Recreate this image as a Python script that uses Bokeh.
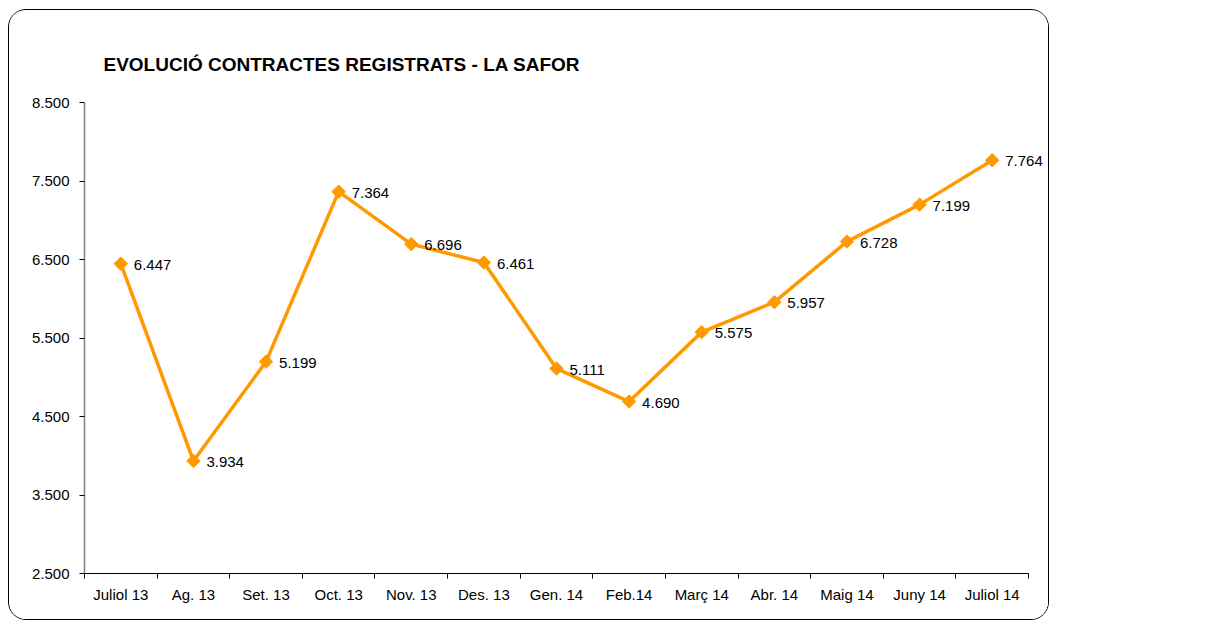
from bokeh.plotting import figure
from bokeh.models import Range1d, FixedTicker, ColumnDataSource, Label
from bokeh.embed import file_html
from bokeh.resources import INLINE

categories = ["Juliol 13", "Ag. 13", "Set. 13", "Oct. 13", "Nov. 13", "Des. 13", "Gen. 14",
              "Feb.14", "Març 14", "Abr. 14", "Maig 14", "Juny 14", "Juliol 14"]
contracts = [6447, 3934, 5199, 7364, 6696, 6461, 5111, 4690, 5575, 5957, 6728, 7199, 7764]
y_ticks = [2500, 3500, 4500, 5500, 6500, 7500, 8500]
y_tick_labels = ["2.500", "3.500", "4.500", "5.500", "6.500", "7.500", "8.500"]


def fmt(v):
    return f"{v:,}".replace(",", ".")


n = len(categories)
xs = [i + 0.5 for i in range(n)]
src = ColumnDataSource(dict(x=xs, y=contracts))

FONT = "Liberation Sans"
ORANGE = "#FF9900"

W, H = 1041, 611
BL, BR = 75, 4
axis_w = W - BL - 22          # width of the drawn category axis
frame_w = W - BL - BR         # frame extends further right so labels are not clipped
x_end = n * frame_w / axis_w

p = figure(width=W, height=H, output_backend="svg", toolbar_location=None,
           x_range=Range1d(0, x_end), y_range=Range1d(2500, 8500),
           min_border_left=BL, min_border_right=BR, min_border_top=92, min_border_bottom=48,
           background_fill_color="white", border_fill_color="white")
p.outline_line_color = None
p.grid.visible = False
p.styles = {"border": "1.5px solid black", "border-radius": "18px",
            "margin-top": "9px", "margin-left": "8px", "overflow": "hidden"}

p.title.text = "EVOLUCIÓ CONTRACTES REGISTRATS - LA SAFOR"
p.title.text_font = FONT
p.title.text_font_style = "bold"
p.title.text_font_size = "19px"
p.title.align = "left"
p.title.offset = 19
p.title.standoff = 55
p.title.text_color = "black"

# x axis
xa = p.xaxis[0]
xa.bounds = (0, n)
xa.ticker = FixedTicker(ticks=xs, minor_ticks=list(range(n + 1)))
xa.major_label_overrides = {x: c for x, c in zip(xs, categories)}
xa.major_tick_line_color = None
xa.minor_tick_line_color = "black"
xa.minor_tick_out = 5
xa.minor_tick_in = 0
xa.axis_line_color = "black"
xa.axis_line_width = 1.2
xa.major_label_text_font = FONT
xa.major_label_text_font_size = "15px"
xa.major_label_text_color = "black"
xa.major_label_standoff = 6

# y axis
ya = p.yaxis[0]
ya.ticker = FixedTicker(ticks=y_ticks)
ya.major_label_overrides = {t: l for t, l in zip(y_ticks, y_tick_labels)}
ya.minor_tick_line_color = None
ya.major_tick_out = 5
ya.major_tick_in = 0
ya.major_tick_line_color = "black"
ya.axis_line_color = "#7f7f7f"
ya.axis_line_width = 1.5
ya.major_label_text_font = FONT
ya.major_label_text_font_size = "15px"
ya.major_label_text_color = "black"
ya.major_label_standoff = 10

p.line("x", "y", source=src, line_color=ORANGE, line_width=3.5)
p.scatter("x", "y", source=src, marker="square", size=9.5, angle=0.785398,
          fill_color=ORANGE, line_color=ORANGE)

for x, v in zip(xs, contracts):
    p.add_layout(Label(x=x, y=v, text=fmt(v), x_offset=13, y_offset=-1,
                       text_baseline="middle", text_align="left",
                       text_font=FONT, text_font_size="15px", text_color="black"))

open("out.html", "w").write(file_html(p, INLINE))
